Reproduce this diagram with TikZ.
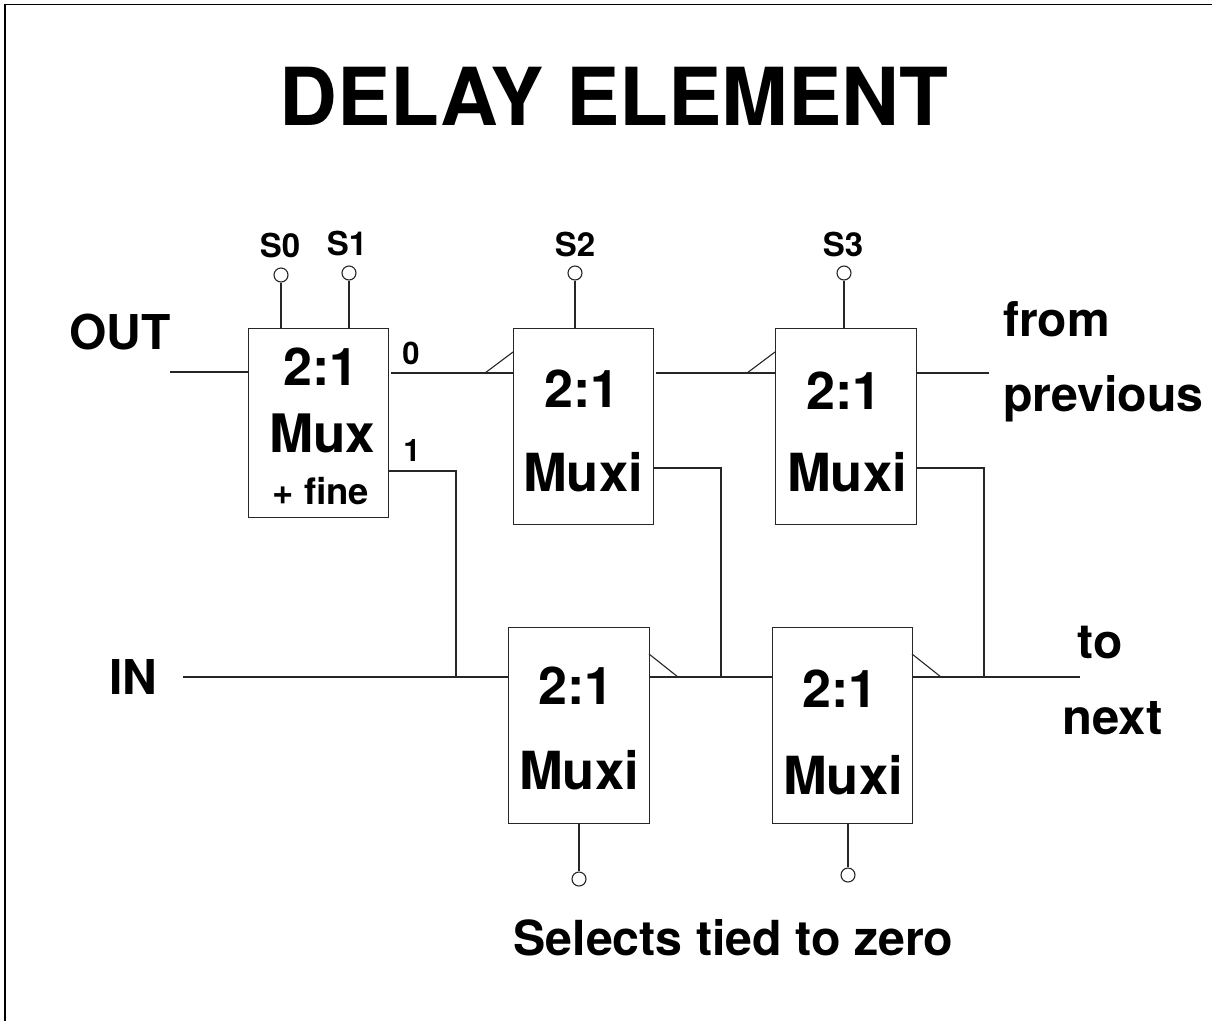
\documentclass[tikz,border=0pt]{standalone}
\usepackage{fontspec}
\setmainfont{TeX Gyre Heros}
\tikzset{
  wire/.style={draw=black!85,line width=1.1pt},
  muxbox/.style={draw=black!85,line width=1.1pt,fill=white,inner sep=0pt,anchor=north west},
  pin/.style={circle,draw=black!85,line width=1.1pt,fill=white,minimum size=14pt,inner sep=0pt},
  txt/.style={font=\bfseries\fontsize{#1}{#1}\selectfont,inner sep=0pt,text=black},
}
\begin{document}
\begin{tikzpicture}[x=1pt,y=-1pt]
\useasboundingbox (0,0) rectangle (1212,1021);
\draw[black,line width=1.6pt] (5,1021) -- (5,4.5) -- (1212,4.5);
\node[txt=80] (title) at (614,96) {DELAY ELEMENT};
% boxes
\node[muxbox,minimum width=140pt,minimum height=189pt] (A) at (248,328) {};
\node[muxbox,minimum width=140pt,minimum height=196pt] (B) at (513,328) {};
\node[muxbox,minimum width=141pt,minimum height=196pt] (C) at (775,328) {};
\node[muxbox,minimum width=141pt,minimum height=196pt] (D) at (508,627) {};
\node[muxbox,minimum width=140pt,minimum height=196pt] (E) at (772,627) {};
% box texts
\node[txt=52] (At1) at (321,367) {2:1};
\node[txt=53] (At2) at (322,433) {Mux};
\node[txt=36.5] (At3) at (321,491) {+ fine};
\node[txt=52] (Bt1) at (582,389) {2:1};
\node[txt=52.5] (Bt2) at (583,472) {Muxi};
\node[txt=52] (Ct1) at (844,391) {2:1};
\node[txt=52.5] (Ct2) at (847,472) {Muxi};
\node[txt=52] (Dt1) at (576,686) {2:1};
\node[txt=52.5] (Dt2) at (579,770) {Muxi};
\node[txt=52] (Et1) at (840,689) {2:1};
\node[txt=52.5] (Et2) at (843,775) {Muxi};
% side labels
\node[txt=48] (lout) at (120,332) {OUT};
\node[txt=48] (lin) at (133,677) {IN};
\node[txt=48,anchor=west] (lfrom) at (1003,319.5) {from};
\node[txt=48.3,anchor=west] (lprev) at (1003,399) {previous};
\node[txt=48] (lto) at (1100,643) {to};
\node[txt=49] (lnext) at (1112.5,718) {next};
\node[txt=48.3] (lsel) at (733.5,938) {Selects tied to zero};
\node[txt=31] (l0) at (411,353) {0};
\node[txt=31] (l1) at (412,451) {1};
\node[txt=33] (ls0) at (280,245) {S0};
\node[txt=33] (ls1) at (347,243) {S1};
\node[txt=33] (ls2) at (575,244) {S2};
\node[txt=33] (ls3) at (843,244) {S3};
% select pins
\node[pin] (p0) at (281,275) {};
\node[pin] (p1) at (349,273) {};
\node[pin] (p2) at (575,273) {};
\node[pin] (p3) at (844,273) {};
\node[pin] (p4) at (579,879) {};
\node[pin] (p5) at (848,875) {};
\coordinate (q0) at (281,328);
\coordinate (q1) at (349,328);
\coordinate (q2) at (575,328);
\coordinate (q3) at (844,328);
\coordinate (q4) at (579,823);
\coordinate (q5) at (848,823);
\foreach \i in {0,...,5} \draw[wire] (p\i) -- (q\i);
% upper chain
\coordinate (outL) at (170,372);
\coordinate (aIn) at (248,372);
\coordinate (aOut0) at (391,373);
\coordinate (bIn) at (513,373);
\coordinate (bOut) at (656,373);
\coordinate (cIn) at (775,373);
\coordinate (cOut) at (916,373);
\coordinate (prevR) at (989,373);
\coordinate (bTick) at (485,373);
\coordinate (bTickE) at (513,352);
\coordinate (cTick) at (747,373);
\coordinate (cTickE) at (775,352);
\draw[wire] (outL) -- (aIn);
\draw[wire] (aOut0) -- (bIn);
\draw[wire] (bOut) -- (cIn);
\draw[wire] (cOut) -- (prevR);
\draw[wire] (bTick) -- (bTickE);
\draw[wire] (cTick) -- (cTickE);
% lower chain
\coordinate (inL) at (183,677);
\coordinate (dIn) at (508,677);
\coordinate (dOut) at (649,677);
\coordinate (eIn) at (772,677);
\coordinate (eOut) at (912,677);
\coordinate (nextR) at (1080,677);
\coordinate (dTick) at (678,677);
\coordinate (dTickE) at (649,654);
\coordinate (eTick) at (941,677);
\coordinate (eTickE) at (912,654);
\draw[wire] (inL) -- (dIn);
\draw[wire] (dOut) -- (eIn);
\draw[wire] (eOut) -- (nextR);
\draw[wire] (dTick) -- (dTickE);
\draw[wire] (eTick) -- (eTickE);
% feedback
\coordinate (a1) at (388,471);
\coordinate (a1c) at (456,471);
\coordinate (a1e) at (456,677);
\coordinate (b1) at (653,468);
\coordinate (b1c) at (721,468);
\coordinate (b1e) at (721,677);
\coordinate (c1) at (916,468);
\coordinate (c1c) at (984,468);
\coordinate (c1e) at (984,677);
\draw[wire] (a1) -- (a1c) -- (a1e);
\draw[wire] (b1) -- (b1c) -- (b1e);
\draw[wire] (c1) -- (c1c) -- (c1e);
\end{tikzpicture}
\end{document}
